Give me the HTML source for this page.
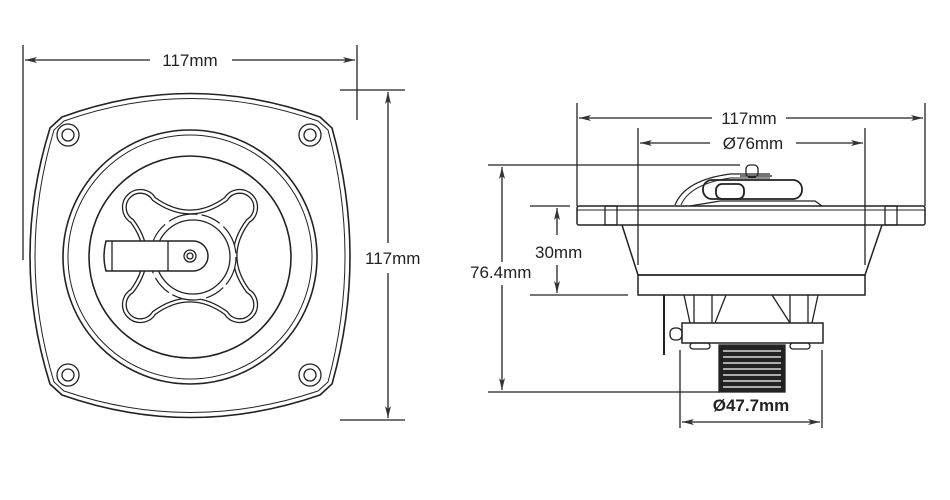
<!DOCTYPE html>
<html><head><meta charset="utf-8"><style>
html,body{margin:0;padding:0;background:#fff;}
svg{display:block;}
text{font-family:"Liberation Sans",Arial,sans-serif;fill:#222;}
</style></head><body>
<svg width="950" height="500" viewBox="0 0 950 500" xmlns="http://www.w3.org/2000/svg">
<defs>
<marker id="a" viewBox="0 0 12 6" refX="12" refY="3" markerWidth="12" markerHeight="6" orient="auto-start-reverse" markerUnits="userSpaceOnUse">
<path d="M0,0 L12,3 L0,6 L3,3 Z" fill="#333"/></marker>
</defs>
<g fill="none" stroke="#222" stroke-width="1.3">
<!-- LEFT VIEW dims -->
<line x1="23" y1="45" x2="23" y2="260"/>
<line x1="357" y1="45" x2="357" y2="120"/>
<line x1="25" y1="60" x2="150" y2="60" marker-start="url(#a)"/>
<line x1="232" y1="60" x2="355" y2="60" marker-end="url(#a)"/>
<line x1="340" y1="90" x2="405" y2="90"/>
<line x1="340" y1="420" x2="405" y2="420"/>
<line x1="388" y1="92" x2="388" y2="243" marker-start="url(#a)"/>
<line x1="388" y1="273" x2="388" y2="418" marker-end="url(#a)"/>
<!-- body -->
<path d="M62,117 Q190,70 320,117 L332,128 Q368,257 332,384 L320,395 Q190,440 62,395 L50,384 Q10,257 50,128 Z" stroke-width="1.6"/>
<path d="M64,121 Q190,76 318,121 L328,130 Q362,257 328,382 L318,391 Q190,434 64,391 L54,382 Q16,257 54,130 Z" stroke-width="1"/>
<circle cx="68" cy="135" r="11"/><circle cx="68" cy="135" r="6"/>
<circle cx="310" cy="135" r="11"/><circle cx="310" cy="135" r="6"/>
<circle cx="68" cy="375" r="11"/><circle cx="68" cy="375" r="6"/>
<circle cx="310" cy="375" r="11"/><circle cx="310" cy="375" r="6"/>
<circle cx="190" cy="257" r="127" stroke-width="1.6"/>
<circle cx="190" cy="257" r="122" stroke-width="1"/>
<circle cx="190" cy="257" r="101" stroke-width="1.6"/>
<!-- cross -->
<path d="M154,199 Q190,225 226,199 A16,16 0 1 1 248,221 Q222,256 248,291 A16,16 0 1 1 226,313 Q190,287 154,313 A16,16 0 1 1 132,291 Q158,256 132,221 A16,16 0 1 1 154,199 Z" stroke-width="5"/>
<path d="M154,199 Q190,225 226,199 A16,16 0 1 1 248,221 Q222,256 248,291 A16,16 0 1 1 226,313 Q190,287 154,313 A16,16 0 1 1 132,291 Q158,256 132,221 A16,16 0 1 1 154,199 Z" stroke="#fff" stroke-width="2.4"/>
<circle cx="193" cy="257" r="43" fill="#fff" stroke-width="1.2" stroke-dasharray="30 4 20 5"/>
<circle cx="193" cy="257" r="37" fill="#fff"/>
<path d="M106,241 L193,241 A15,15 0 0 1 193,271 L106,271 Q102,256 106,241 Z" fill="#fff" stroke-width="1.5"/>
<line x1="112" y1="241" x2="112" y2="271"/>
<line x1="168" y1="241" x2="168" y2="271"/>
<circle cx="190" cy="256" r="6"/><circle cx="190" cy="256" r="3"/>

<!-- RIGHT VIEW dims -->
<line x1="577" y1="103" x2="577" y2="206"/>
<line x1="925" y1="103" x2="925" y2="206"/>
<line x1="579" y1="118" x2="712" y2="118" marker-start="url(#a)"/>
<line x1="786" y1="118" x2="923" y2="118" marker-end="url(#a)"/>
<line x1="638" y1="128" x2="638" y2="265"/>
<line x1="865" y1="128" x2="865" y2="265"/>
<line x1="640" y1="143" x2="710" y2="143" marker-start="url(#a)"/>
<line x1="796" y1="143" x2="863" y2="143" marker-end="url(#a)"/>
<line x1="488" y1="165" x2="740" y2="165"/>
<line x1="488" y1="392" x2="720" y2="392"/>
<line x1="502" y1="167" x2="502" y2="262" marker-start="url(#a)"/>
<line x1="502" y1="285" x2="502" y2="390" marker-end="url(#a)"/>
<line x1="530" y1="206" x2="570" y2="206"/>
<line x1="530" y1="295" x2="628" y2="295"/>
<line x1="557" y1="208" x2="557" y2="235" marker-start="url(#a)"/>
<line x1="557" y1="265" x2="557" y2="293" marker-end="url(#a)"/>
<line x1="680" y1="350" x2="680" y2="428"/>
<line x1="822" y1="350" x2="822" y2="428"/>
<line x1="682" y1="422" x2="820" y2="422" marker-start="url(#a)" marker-end="url(#a)"/>
<!-- flange -->
<rect x="577" y="206" width="348" height="19" rx="2" stroke-width="1.5"/>
<line x1="577" y1="210" x2="925" y2="210" stroke-width="1"/>
<rect x="605" y="206" width="12" height="19"/>
<rect x="885" y="206" width="12" height="19"/>
<path d="M622,225 L638,275 L865,275 L882,225" stroke-width="1.5"/>
<rect x="638" y="275" width="227" height="20" stroke-width="1.5"/>
<!-- top knob -->
<path d="M675,205 Q685,180 730,174 L770,174" stroke-width="1.2"/>
<path d="M681,205 Q690,184 730,178 L770,178" stroke-width="1"/>
<path d="M690,206 L720,201 L815,201 L822,206"/>
<rect x="703" y="180" width="99" height="19" rx="9" stroke-width="1.8"/>
<rect x="716" y="184" width="28" height="15" rx="6" stroke-width="1.8"/>
<rect x="746" y="165" width="12" height="12" rx="4"/>
<line x1="740" y1="176" x2="772" y2="176"/>
<!-- underside -->
<line x1="664" y1="295" x2="664" y2="355" stroke-width="2"/>
<path d="M684,295 L690,323 M694,295 L694,323 M712,295 L712,323 M726,295 L715,323 M772,295 L790,323 M790,295 L790,323 M808,295 L808,323 M818,295 L812,323"/>
<rect x="682" y="323" width="141" height="20" stroke-width="1.5"/>
<rect x="670" y="328" width="12" height="12" rx="5"/>
<rect x="690" y="343" width="20" height="6" rx="3"/>
<rect x="790" y="343" width="20" height="6" rx="3"/>
<rect x="719" y="345" width="66" height="47" fill="#222"/>
</g>
<g stroke="#fff" stroke-width="1.2">
<line x1="723" y1="351" x2="781" y2="351"/><line x1="723" y1="357" x2="781" y2="357"/>
<line x1="723" y1="363" x2="781" y2="363"/><line x1="723" y1="369" x2="781" y2="369"/>
<line x1="723" y1="375" x2="781" y2="375"/><line x1="723" y1="381" x2="781" y2="381"/>
<line x1="723" y1="387" x2="781" y2="387"/>
</g>
<g font-size="17">
<text x="190" y="66" text-anchor="middle">117mm</text>
<text x="365" y="264">117mm</text>
<text x="749" y="124" text-anchor="middle">117mm</text>
<text x="753" y="149" text-anchor="middle">Ø76mm</text>
<text x="535" y="258">30mm</text>
<text x="470" y="278">76.4mm</text>
<text x="751" y="411" text-anchor="middle" font-weight="bold">Ø47.7mm</text>
</g>
</svg>
</body></html>
